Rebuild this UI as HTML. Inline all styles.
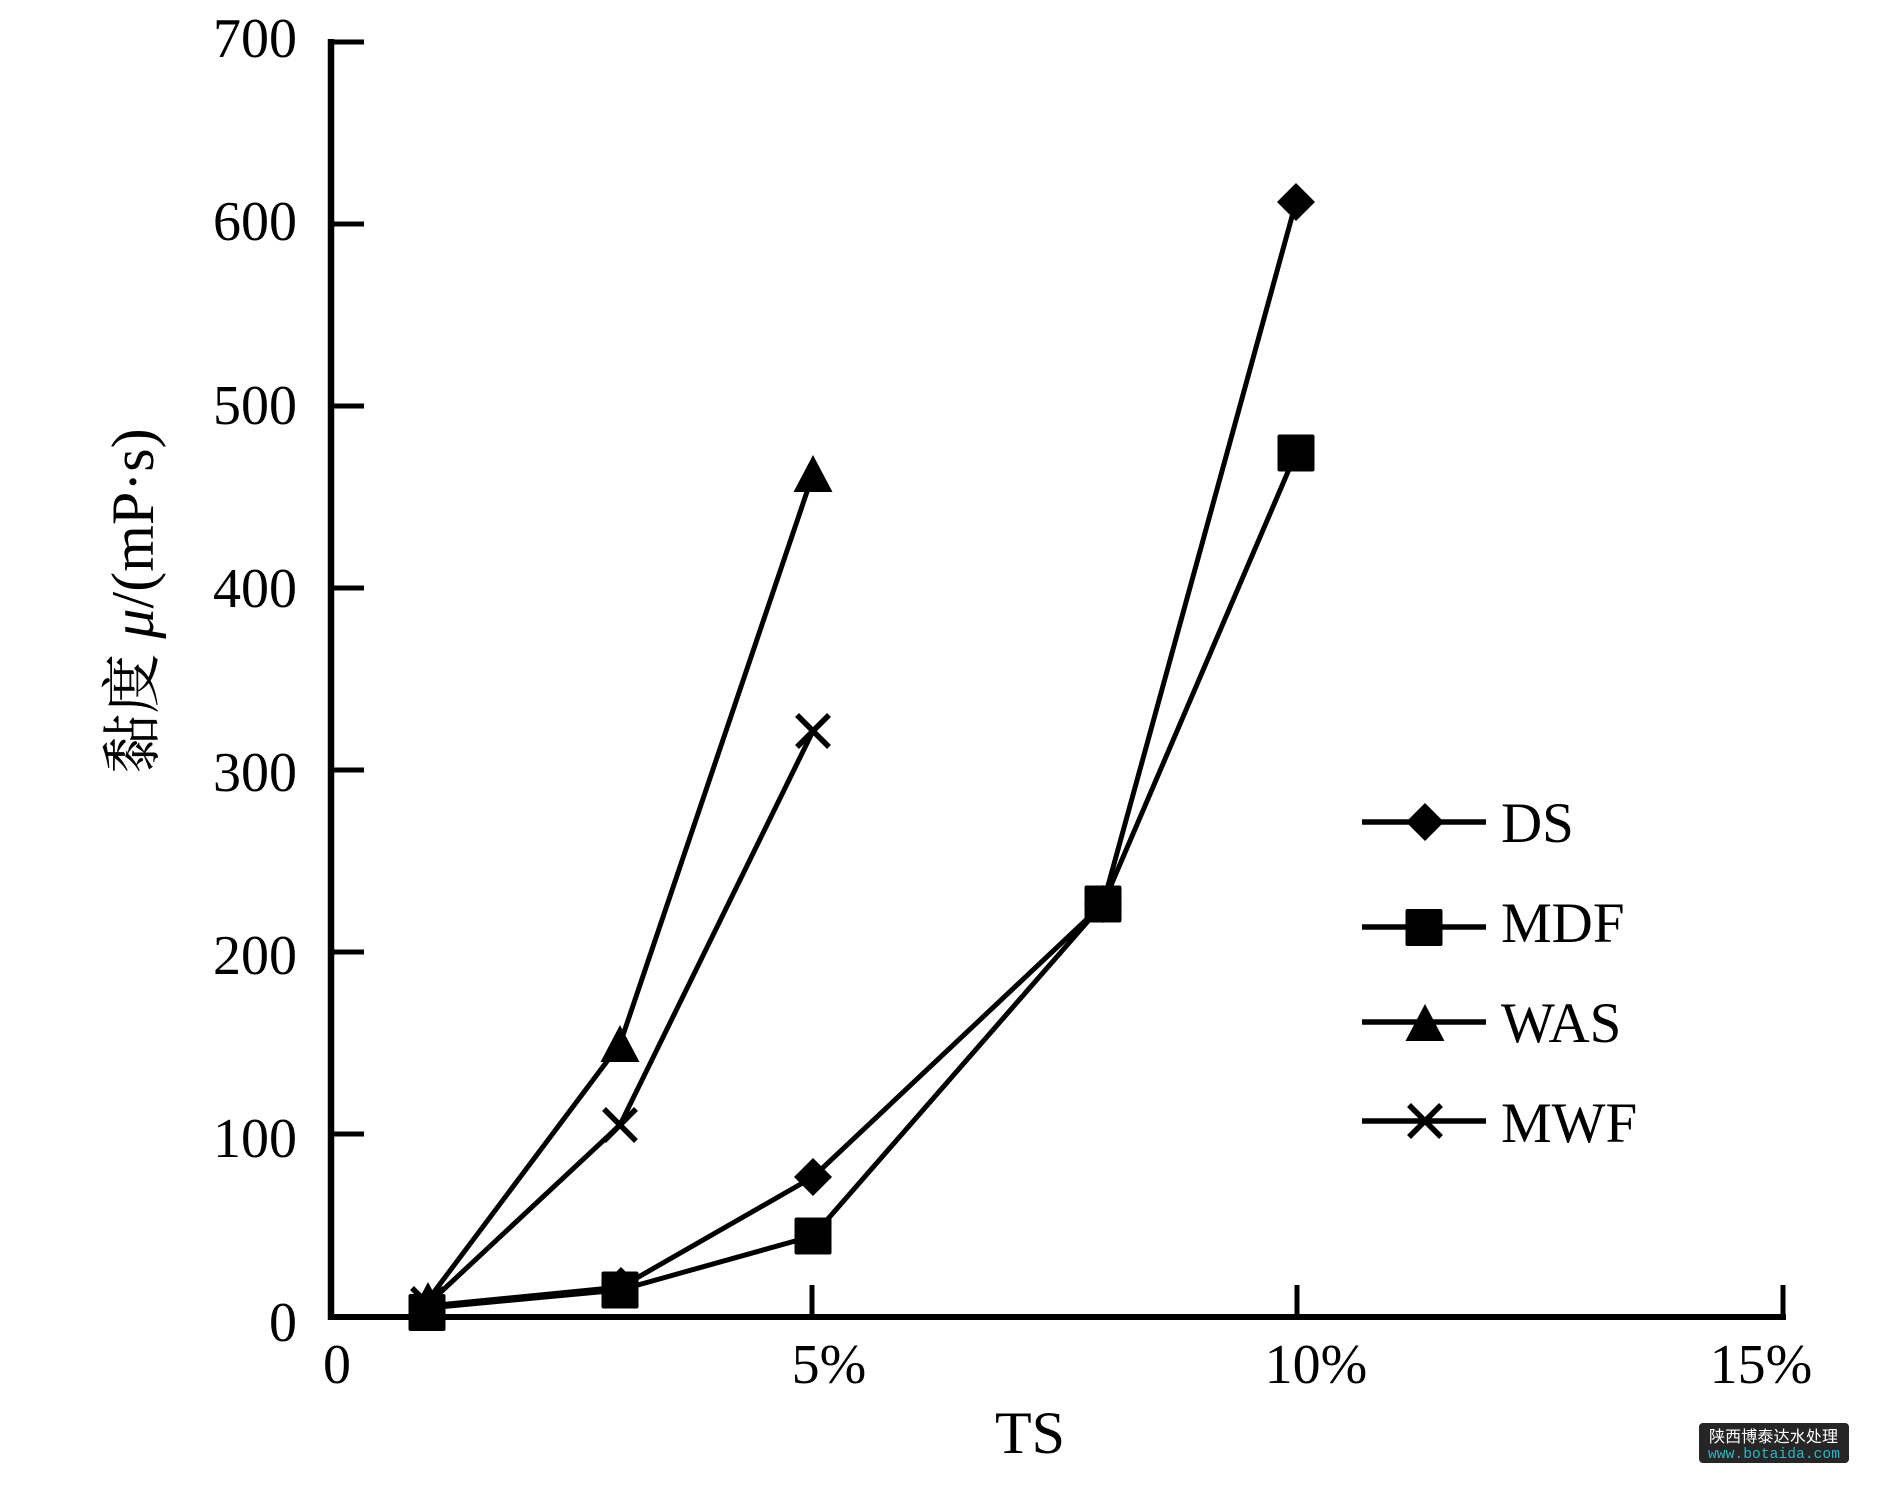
<!DOCTYPE html>
<html>
<head>
<meta charset="utf-8">
<style>
html,body{margin:0;padding:0;background:#fff;}
svg{display:block;}
text{font-family:"Liberation Serif","Noto Serif CJK SC",serif;fill:#000;}
</style>
</head>
<body>
<svg width="1890" height="1488" viewBox="0 0 1890 1488" xmlns="http://www.w3.org/2000/svg">
<rect x="0" y="0" width="1890" height="1488" fill="#fff"/>

<!-- Axes -->
<g stroke="#000" fill="none">
  <line x1="331" y1="39" x2="331" y2="1320" stroke-width="6.5"/>
  <line x1="328" y1="1317" x2="1786" y2="1317" stroke-width="6"/>
  <g stroke-width="5">
    <line x1="331" y1="42" x2="364" y2="42"/>
    <line x1="331" y1="224" x2="364" y2="224"/>
    <line x1="331" y1="406" x2="364" y2="406"/>
    <line x1="331" y1="588" x2="364" y2="588"/>
    <line x1="331" y1="770" x2="364" y2="770"/>
    <line x1="331" y1="952" x2="364" y2="952"/>
    <line x1="331" y1="1134" x2="364" y2="1134"/>
    <line x1="812" y1="1285" x2="812" y2="1317"/>
    <line x1="1297" y1="1285" x2="1297" y2="1317"/>
    <line x1="1783" y1="1285" x2="1783" y2="1320"/>
  </g>
</g>

<!-- Y tick labels -->
<g font-size="56" text-anchor="end">
  <text x="297" y="57">700</text>
  <text x="297" y="240">600</text>
  <text x="297" y="424">500</text>
  <text x="297" y="607">400</text>
  <text x="297" y="791">300</text>
  <text x="297" y="974">200</text>
  <text x="297" y="1157">100</text>
  <text x="297" y="1341">0</text>
</g>

<!-- X tick labels -->
<g font-size="56" text-anchor="middle">
  <text x="337" y="1383">0</text>
  <text x="829" y="1383">5%</text>
  <text x="1316" y="1383">10%</text>
  <text x="1761" y="1383">15%</text>
</g>

<!-- Axis titles -->
<text x="1030" y="1453" font-size="60" text-anchor="middle">TS</text>
<text transform="translate(153,601) rotate(-90)" font-size="60" text-anchor="middle">黏度 <tspan font-style="italic">μ</tspan>/(mP·s)</text>

<!-- Series lines -->
<g stroke="#000" stroke-width="5" fill="none" stroke-linejoin="round" stroke-linecap="round">
  <!-- DS -->
  <path d="M428,1306 L621,1287 L813,1177 L1103,904 L1296,202"/>
  <!-- MDF -->
  <path d="M428,1308 L620,1290 L813,1236 L1103,904 L1296,453"/>
  <!-- WAS -->
  <path d="M428,1300 L620,1044 L813,474"/>
  <!-- MWF -->
  <path d="M428,1304 L620,1125 L813,731"/>
</g>

<!-- Markers -->
<g fill="#000">
  <path d="M428,1287 L447,1306 L428,1325 L409,1306 Z"/>
  <path d="M621,1267 L640,1286 L621,1305 L602,1286 Z"/>
  <path d="M813,1158 L832,1177 L813,1196 L794,1177 Z"/>
  <path d="M1103,885 L1122,904 L1103,923 L1084,904 Z"/>
  <path d="M1296,183 L1315,202 L1296,221 L1277,202 Z"/>
  <path d="M428,1282 L447.5,1319 L408.5,1319 Z"/>
  <path d="M620,1025 L639.5,1062 L600.5,1062 Z"/>
  <path d="M813,455 L832.5,492 L793.5,492 Z"/>
  <rect x="408.5" y="1294" width="37" height="37" rx="2"/>
  <rect x="601.5" y="1271.5" width="37" height="37" rx="2"/>
  <rect x="794.5" y="1217.5" width="37" height="37" rx="2"/>
  <rect x="1084.5" y="885.5" width="37" height="37" rx="2"/>
  <rect x="1277.5" y="434.5" width="37" height="37" rx="2"/>
</g>
<g stroke="#000" stroke-width="5.5" fill="none">
  <path d="M412,1288 L444,1320 M444,1288 L412,1320"/>
  <path d="M604,1109 L636,1141 M636,1109 L604,1141"/>
  <path d="M797,715 L829,747 M829,715 L797,747"/>
</g>

<!-- Legend -->
<g stroke="#000" stroke-width="5.5" fill="none">
  <line x1="1362" y1="822" x2="1486" y2="822"/>
  <line x1="1362" y1="927" x2="1486" y2="927"/>
  <line x1="1362" y1="1022" x2="1486" y2="1022"/>
  <line x1="1362" y1="1121" x2="1486" y2="1121"/>
  <path d="M1409,1105 L1441,1137 M1441,1105 L1409,1137"/>
</g>
<g fill="#000">
  <path d="M1425,803 L1444,822 L1425,841 L1406,822 Z"/>
  <rect x="1405.5" y="909" width="37" height="37" rx="2"/>
  <path d="M1425,1004 L1444.5,1041 L1405.5,1041 Z"/>
</g>
<g font-size="57">
  <text x="1501" y="842">DS</text>
  <text x="1501" y="942">MDF</text>
  <text x="1501" y="1042">WAS</text>
  <text x="1501" y="1142">MWF</text>
</g>

<!-- Watermark -->
<rect x="1699" y="1423" width="150" height="40" rx="4" fill="#262626"/>
<text x="1709" y="1442" font-size="16" style="font-family:'Noto Sans CJK SC','WenQuanYi Zen Hei',sans-serif;fill:#ffffff;" textLength="129">陕西博泰达水处理</text>
<text x="1708" y="1458" font-size="14.6" style="font-family:'Liberation Mono',monospace;fill:#2bb5c6;" textLength="132">www.botaida.com</text>
</svg>
</body>
</html>
